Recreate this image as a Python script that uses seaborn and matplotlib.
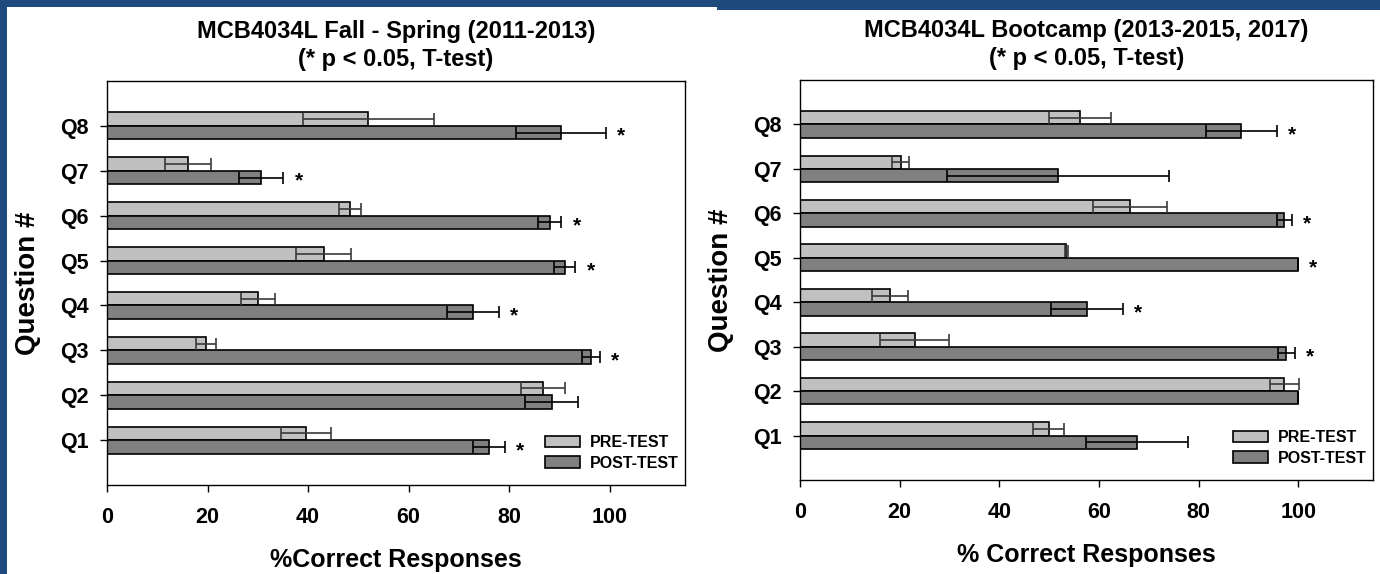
import matplotlib
matplotlib.use("Agg")
import matplotlib.pyplot as plt
from matplotlib.patches import Rectangle
import seaborn as sns
import pandas as pd

# ---------------- data ----------------
questions = ["Q1", "Q2", "Q3", "Q4", "Q5", "Q6", "Q7", "Q8"]
tests = ["PRE-TEST", "POST-TEST"]

left_pre = [39.6, 86.8, 19.7, 30.1, 43.1, 48.4, 16.1, 52.0]
left_pre_err = [4.9, 4.4, 1.9, 3.4, 5.5, 2.2, 4.5, 13.0]
left_post = [76.0, 88.5, 96.3, 72.8, 91.1, 88.1, 30.7, 90.3]
left_post_err = [3.2, 5.3, 1.8, 5.1, 2.1, 2.3, 4.4, 8.9]
left_sig = [True, False, True, True, True, True, True, True]

right_pre = [49.9, 97.2, 23.0, 18.0, 53.4, 66.3, 20.2, 56.2]
right_pre_err = [3.1, 2.9, 6.9, 3.6, 0.3, 7.4, 1.7, 6.3]
right_post = [67.6, 100.0, 97.6, 57.6, 100.0, 97.2, 51.8, 88.6]
right_post_err = [10.3, 0.0, 1.7, 7.2, 0.0, 1.5, 22.3, 7.1]
right_sig = [False, False, True, True, True, True, False, True]

x_ticks = [0, 20, 40, 60, 80, 100]
left_title = "MCB4034L Fall - Spring (2011-2013)\n(* p < 0.05, T-test)"
right_title = "MCB4034L Bootcamp (2013-2015, 2017)\n(* p < 0.05, T-test)"
left_xlabel = "%Correct Responses"
right_xlabel = "% Correct Responses"
ylabel = "Question #"

# ---------------- style ----------------
sns.set_theme(style="white")
plt.rcParams["font.family"] = ["Liberation Sans", "DejaVu Sans"]
plt.rcParams["font.weight"] = "bold"
for key in ["text.color", "axes.labelcolor", "xtick.color", "ytick.color",
            "axes.edgecolor"]:
    plt.rcParams[key] = "black"

colors = {"PRE-TEST": "#C0C0C0", "POST-TEST": "#808080"}
err_colors = {"PRE-TEST": "#3A3A3A", "POST-TEST": "#000000"}

W, H = 1380, 574
fig = plt.figure(figsize=(W / 100, H / 100), dpi=100)
fig.patch.set_facecolor("#1F4A7D")
fig.add_artist(Rectangle((7 / W, 0), 710 / W, 567 / H, transform=fig.transFigure,
                         facecolor="white", edgecolor="none", zorder=0))
fig.add_artist(Rectangle((717 / W, 0), 663 / W, 564 / H, transform=fig.transFigure,
                         facecolor="white", edgecolor="none", zorder=0))

ax1 = fig.add_axes([107 / W, 89 / H, 578 / W, 404 / H])
ax2 = fig.add_axes([800 / W, 94 / H, 573 / W, 400 / H])


def draw(ax, pre, pre_err, post, post_err, sig, title, xlabel):
    df = pd.DataFrame({
        "Question": questions * 2,
        "Value": pre + post,
        "Test": [tests[0]] * len(questions) + [tests[1]] * len(questions),
    })
    order = questions[::-1]
    sns.barplot(data=df, x="Value", y="Question", hue="Test", order=order,
                hue_order=tests, palette=colors, width=0.6, saturation=1,
                edgecolor="black", linewidth=1.2, errorbar=None, orient="h",
                legend=False, ax=ax, zorder=2)
    errs = {tests[0]: dict(zip(questions, pre_err)),
            tests[1]: dict(zip(questions, post_err))}
    sigs = dict(zip(questions, sig))
    for cont, test in zip(ax.containers, tests):
        for bar in cont:
            yc = bar.get_y() + bar.get_height() / 2
            q = order[int(round(yc))]
            e = errs[test][q]
            ax.errorbar(bar.get_width(), yc, xerr=e, fmt="none",
                        ecolor=err_colors[test], elinewidth=1.2, capsize=4,
                        capthick=1.2, zorder=5)
            if test == tests[1] and sigs[q]:
                ax.text(bar.get_width() + e + 2.2, yc + 0.08, "*", ha="left",
                        va="center", fontsize=15, fontweight="bold",
                        color="black", zorder=6)

    ax.legend(list(ax.containers), tests, loc="lower right",
              bbox_to_anchor=(1.0, 0.02), frameon=False,
              prop={"size": 11.5, "weight": "bold"}, handlelength=2.2,
              handleheight=0.75, handletextpad=0.6, labelspacing=0.35,
              borderaxespad=0.0, labelcolor="black")

    ax.set_xlim(0, 115)
    ax.set_ylim(8, -1)
    ax.set_xticks(x_ticks)
    ax.set_xticklabels([str(t) for t in x_ticks])
    ax.tick_params(axis="both", bottom=True, left=True, direction="out",
                   length=5, width=1, color="black", labelcolor="black",
                   labelsize=15.5)
    ax.tick_params(axis="x", pad=11)
    ax.tick_params(axis="y", pad=8)
    for lbl in ax.get_xticklabels() + ax.get_yticklabels():
        lbl.set_fontweight("bold")
    for s in ax.spines.values():
        s.set_visible(True)
        s.set_color("black")
        s.set_linewidth(1.0)
    ax.set_facecolor("white")
    ax.set_title(title, fontsize=17, fontweight="bold", pad=11,
                 linespacing=1.25, color="black")
    ax.set_xlabel(xlabel, fontsize=18, fontweight="bold", labelpad=14,
                  color="black")
    ax.set_ylabel(ylabel, fontsize=20, fontweight="bold", labelpad=14,
                  color="black")


draw(ax1, left_pre, left_pre_err, left_post, left_post_err, left_sig,
     left_title, left_xlabel)
draw(ax2, right_pre, right_pre_err, right_post, right_post_err, right_sig,
     right_title, right_xlabel)

fig.savefig("out.png", dpi=100, facecolor=fig.get_facecolor())
